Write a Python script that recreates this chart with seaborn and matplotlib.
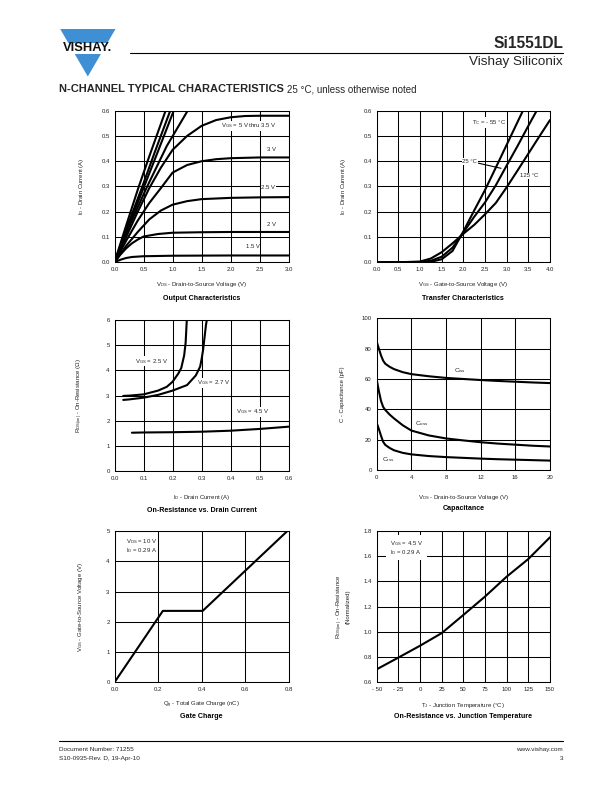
import numpy as np
import pandas as pd
import matplotlib
matplotlib.use("Agg")
import matplotlib.pyplot as plt
import seaborn as sns
from matplotlib.patches import Polygon, Rectangle
from matplotlib.lines import Line2D

# ---------------- DATA ----------------
# Output characteristics (VDS in V, ID in A)
out_vgs_labels = ["5 V", "4.5 V", "4 V", "3.75 V", "3.5 V", "3 V", "2.5 V", "2 V", "1.5 V"]
out_a_vds = [0, 0.2, 0.41, 0.6, 0.88, 0.95]
out_a_id = [0, 0.145, 0.294, 0.42, 0.6, 0.64]
out_b_vds = [0, 0.2, 0.47, 0.7, 0.96, 1.05]
out_b_id = [0, 0.13, 0.294, 0.44, 0.6, 0.65]
out_c_vds = [0, 0.2, 0.5, 0.75, 1.02, 1.1]
out_c_id = [0, 0.12, 0.294, 0.44, 0.6, 0.64]
out_d_vds = [0, 0.2, 0.55, 0.9, 1.26, 1.35]
out_d_id = [0, 0.115, 0.294, 0.46, 0.6, 0.63]
out_35_vds = [0, 0.2, 0.4, 0.6, 0.8, 1.0, 1.25, 1.5, 1.75, 2.0, 2.25, 2.5, 3.0]
out_35_id = [0, 0.1, 0.2, 0.294, 0.375, 0.445, 0.5, 0.54, 0.563, 0.574, 0.579, 0.58, 0.58]
out_3_vds = [0, 0.2, 0.4, 0.6, 0.8, 1.0, 1.25, 1.5, 1.75, 2.0, 2.5, 3.0]
out_3_id = [0, 0.085, 0.165, 0.235, 0.294, 0.355, 0.385, 0.4, 0.408, 0.412, 0.415, 0.415]
out_25_vds = [0, 0.2, 0.4, 0.6, 0.8, 1.0, 1.25, 1.5, 2.0, 2.5, 3.0]
out_25_id = [0, 0.065, 0.12, 0.17, 0.205, 0.228, 0.242, 0.25, 0.255, 0.257, 0.258]
out_2_vds = [0, 0.1, 0.2, 0.3, 0.4, 0.5, 0.75, 1.0, 1.5, 2.0, 3.0]
out_2_id = [0, 0.03, 0.055, 0.075, 0.09, 0.102, 0.112, 0.117, 0.119, 0.12, 0.12]
out_15_vds = [0, 0.1, 0.2, 0.3, 0.5, 1.0, 2.0, 3.0]
out_15_id = [0, 0.01, 0.017, 0.021, 0.024, 0.026, 0.027, 0.027]

# Transfer characteristics (VGS in V, ID in A)
tr_m55_vgs = [0, 0.5, 1.0, 1.25, 1.5, 1.75, 2.0, 2.25, 2.5, 2.75, 3.0, 3.25, 3.5]
tr_m55_id = [0, 0, 0, 0.002, 0.012, 0.045, 0.122, 0.205, 0.286, 0.375, 0.465, 0.555, 0.645]
tr_25_vgs = [0, 0.5, 1.0, 1.25, 1.5, 1.75, 2.0, 2.25, 2.5, 2.75, 3.0, 3.25, 3.5, 3.75]
tr_25_id = [0, 0, 0.001, 0.006, 0.022, 0.058, 0.118, 0.18, 0.237, 0.305, 0.383, 0.46, 0.54, 0.618]
tr_125_vgs = [0, 0.5, 1.0, 1.25, 1.5, 1.75, 2.0, 2.25, 2.5, 2.75, 3.0, 3.25, 3.5, 3.75, 4.0]
tr_125_id = [0, 0, 0.003, 0.015, 0.04, 0.075, 0.113, 0.148, 0.19, 0.235, 0.297, 0.363, 0.43, 0.497, 0.563]

# On-resistance vs drain current (ID in A, RDS in ohm)
rd_25_id = [0.03, 0.05, 0.1, 0.15, 0.18, 0.2, 0.22, 0.23, 0.24, 0.245, 0.249]
rd_25_r = [2.99, 3.0, 3.05, 3.2, 3.35, 3.55, 3.88, 4.1, 4.6, 5.1, 6.0]
rd_27_id = [0.03, 0.05, 0.1, 0.15, 0.2, 0.25, 0.28, 0.295, 0.3, 0.305, 0.31, 0.315, 0.318]
rd_27_r = [2.83, 2.85, 2.92, 3.03, 3.2, 3.42, 3.8, 4.15, 4.45, 4.8, 5.3, 5.8, 6.0]
rd_45_id = [0.06, 0.1, 0.2, 0.3, 0.4, 0.5, 0.6]
rd_45_r = [1.53, 1.54, 1.55, 1.57, 1.61, 1.68, 1.77]

# Capacitance (VDS in V, C in pF)
cap_vds = [0, 0.25, 0.5, 0.75, 1, 1.5, 2, 3, 4, 6, 8, 10, 12, 14, 16, 18, 20]
cap_ciss = [84.5, 80, 75.5, 72, 70, 68, 66.5, 64.5, 63.2, 61.8, 60.7, 60, 59.3, 58.7, 58.2, 57.7, 57.3]
cap_coss = [59.5, 52, 45.5, 41.5, 39.5, 36.5, 34, 29.5, 26, 22.8, 20.8, 19.5, 18.3, 17.4, 16.7, 16, 15.5]
cap_crss = [31, 27, 22.5, 18.5, 16.5, 14.5, 13, 11.3, 10.3, 9.2, 8.5, 8, 7.5, 7.1, 6.8, 6.5, 6.2]

# Gate charge (Qg in nC, VGS in V)
gc_qg = [0, 0.222, 0.405, 0.794]
gc_vgs = [0, 2.36, 2.36, 5.0]

# On-resistance vs junction temperature
tj_temp = [-50, -25, 0, 25, 50, 75, 100, 125, 150]
tj_rnorm = [0.703, 0.796, 0.89, 0.99, 1.134, 1.28, 1.438, 1.578, 1.75]

# ---------------- STYLE ----------------
sns.set_theme(style="white")
plt.rcParams["font.family"] = ["Liberation Sans", "DejaVu Sans"]
plt.rcParams["mathtext.fontset"] = "custom"
plt.rcParams["mathtext.rm"] = "Liberation Sans"
plt.rcParams["mathtext.it"] = "Liberation Sans"

W, H = 612, 792
fig = plt.figure(figsize=(W / 100, H / 100), dpi=100)
fig.patch.set_facecolor("white")

TICK_FS = 4.3
LAB_FS = 4.3
TITLE_FS = 5.1
CURVE_LW = 1.5
GRID_LW = 0.75
TXT = "#222222"
WB = dict(facecolor="white", edgecolor="none", pad=0.6)


def px(x, y):
    return x / W, 1 - y / H


def make_ax(l, t, r, b, xlim, ylim, xticks, yticks, xtl, ytl, title, title_y):
    ax = fig.add_axes([l / W, 1 - b / H, (r - l) / W, (b - t) / H])
    ax.set_xlim(*xlim)
    ax.set_ylim(*ylim)
    ax.set_xticks(xticks)
    ax.set_yticks(yticks)
    ax.set_xticklabels(xtl)
    ax.set_yticklabels(ytl)
    ax.tick_params(length=0, pad=3.5, labelsize=TICK_FS, colors=TXT)
    ax.grid(True, color="black", lw=GRID_LW)
    for s in ax.spines.values():
        s.set_color("black")
        s.set_linewidth(GRID_LW)
        s.set_visible(True)
    ax.text(0.5, (b - title_y) / (b - t), title, transform=ax.transAxes, ha="center",
            va="center", fontsize=TITLE_FS, fontweight="bold", color="black")
    return ax


def labels(ax, rect, xlabel, xlab_y, ylabel, ylab_x):
    l, t, r, b = rect
    ax.set_xlabel(xlabel, fontsize=LAB_FS, va="center", color=TXT)
    ax.xaxis.set_label_coords(0.5, (b - xlab_y) / (b - t))
    ax.set_ylabel(ylabel, fontsize=LAB_FS, va="center", color=TXT, linespacing=1.15)
    ax.yaxis.set_label_coords((ylab_x - l) / (r - l), 0.5)


def draw(ax, curves):
    rows = []
    for name, xs, ys in curves:
        for x, y in zip(xs, ys):
            rows.append({"curve": name, "x": x, "y": y})
    df = pd.DataFrame(rows)
    sns.lineplot(data=df, x="x", y="y", units="curve", estimator=None, sort=False,
                 color="black", lw=CURVE_LW, ax=ax, legend=False)


def fmt(vals, f):
    return [f.format(v) for v in vals]

# ---- Output characteristics ----
r1 = (114.5, 110.7, 288.7, 262.3)
ax1 = make_ax(*r1, (0, 3), (0, 0.6),
              np.arange(0, 3.01, 0.5), np.arange(0, 0.61, 0.1),
              fmt(np.arange(0, 3.01, 0.5), "{:.1f}"), fmt(np.arange(0, 0.61, 0.1), "{:.1f}"),
              "Output Characteristics", 299)
draw(ax1, [("a", out_a_vds, out_a_id), ("b", out_b_vds, out_b_id), ("c", out_c_vds, out_c_id),
           ("d", out_d_vds, out_d_id), ("v35", out_35_vds, out_35_id), ("v3", out_3_vds, out_3_id),
           ("v25", out_25_vds, out_25_id), ("v2", out_2_vds, out_2_id), ("v15", out_15_vds, out_15_id)])
labels(ax1, r1, r"$\mathregular{V_{DS}}$ - Drain-to-Source Voltage (V)", 285,
       r"$\mathregular{I_D}$ - Drain Current (A)", 81.7)
ax1.text(2.32, 0.54, r"$\mathregular{V_{GS}}$ = 5 V thru 3.5 V", fontsize=LAB_FS, ha="center", va="center", bbox=WB)
ax1.text(2.71, 0.447, "3 V", fontsize=LAB_FS, ha="center", va="center", bbox=WB)
ax1.text(2.65, 0.297, "2.5 V", fontsize=LAB_FS, ha="center", va="center", bbox=WB)
ax1.text(2.71, 0.15, "2 V", fontsize=LAB_FS, ha="center", va="center", bbox=WB)
ax1.text(2.38, 0.062, "1.5 V", fontsize=LAB_FS, ha="center", va="center", bbox=WB)

# ---- Transfer characteristics ----
r2 = (376.7, 110.7, 550, 262.3)
ax2 = make_ax(*r2, (0, 4), (0, 0.6),
              np.arange(0, 4.01, 0.5), np.arange(0, 0.61, 0.1),
              fmt(np.arange(0, 4.01, 0.5), "{:.1f}"), fmt(np.arange(0, 0.61, 0.1), "{:.1f}"),
              "Transfer Characteristics", 299)
draw(ax2, [("m55", tr_m55_vgs, tr_m55_id), ("25", tr_25_vgs, tr_25_id), ("125", tr_125_vgs, tr_125_id)])
labels(ax2, r2, r"$\mathregular{V_{GS}}$ - Gate-to-Source Voltage (V)", 285,
       r"$\mathregular{I_D}$ - Drain Current (A)", 343.3)
ax2.text(2.6, 0.553, r"$\mathregular{T_C}$ = - 55 °C", fontsize=LAB_FS, ha="center", va="center", bbox=WB)
ax2.annotate("25 °C", xy=(2.87, 0.372), xytext=(2.15, 0.40), fontsize=LAB_FS, ha="center", va="center",
             bbox=WB, arrowprops=dict(arrowstyle="-", lw=0.8, color="black", shrinkA=0, shrinkB=0))
ax2.text(3.52, 0.342, "125 °C", fontsize=LAB_FS, ha="center", va="center", bbox=WB)

# ---- On-resistance vs drain current ----
r3 = (114.5, 320, 288.7, 471.3)
ax3 = make_ax(*r3, (0, 0.6), (0, 6),
              np.arange(0, 0.61, 0.1), np.arange(0, 6.1, 1),
              fmt(np.arange(0, 0.61, 0.1), "{:.1f}"), fmt(np.arange(0, 6.1, 1), "{:.0f}"),
              "On-Resistance vs. Drain Current", 510)
draw(ax3, [("25", rd_25_id, rd_25_r), ("27", rd_27_id, rd_27_r), ("45", rd_45_id, rd_45_r)])
labels(ax3, r3, r"$\mathregular{I_D}$ - Drain Current (A)", 498,
       r"$\mathregular{R_{DS(on)}}$ - On-Resistance (Ω)", 80)
ax3.text(0.126, 4.37, r"$\mathregular{V_{GS}}$ = 2.5 V", fontsize=LAB_FS, ha="center", va="center", bbox=WB)
ax3.text(0.34, 3.5, r"$\mathregular{V_{GS}}$ = 2.7 V", fontsize=LAB_FS, ha="center", va="center", bbox=WB)
ax3.text(0.474, 2.35, r"$\mathregular{V_{GS}}$ = 4.5 V", fontsize=LAB_FS, ha="center", va="center", bbox=WB)

# ---- Capacitance ----
r4 = (376.7, 318.3, 550, 470)
ax4 = make_ax(*r4, (0, 20), (0, 100),
              np.arange(0, 21, 4), np.arange(0, 101, 20),
              fmt(np.arange(0, 21, 4), "{:.0f}"), fmt(np.arange(0, 101, 20), "{:.0f}"),
              "Capacitance", 509)
draw(ax4, [("ciss", cap_vds, cap_ciss), ("coss", cap_vds, cap_coss), ("crss", cap_vds, cap_crss)])
labels(ax4, r4, r"$\mathregular{V_{DS}}$ - Drain-to-Source Voltage (V)", 497,
       "C - Capacitance (pF)", 342.7)
ax4.text(9.6, 65.3, r"$\mathregular{C_{iss}}$", fontsize=LAB_FS + 0.3, ha="center", va="center")
ax4.text(5.2, 30.3, r"$\mathregular{C_{oss}}$", fontsize=LAB_FS + 0.3, ha="center", va="center")
ax4.text(1.3, 6.6, r"$\mathregular{C_{rss}}$", fontsize=LAB_FS + 0.3, ha="center", va="center")

# ---- Gate charge ----
r5 = (114.5, 531, 288.7, 682.3)
ax5 = make_ax(*r5, (0, 0.8), (0, 5),
              np.arange(0, 0.81, 0.2), np.arange(0, 5.1, 1),
              fmt(np.arange(0, 0.81, 0.2), "{:.1f}"), fmt(np.arange(0, 5.1, 1), "{:.0f}"),
              "Gate Charge", 716)
draw(ax5, [("gc", gc_qg, gc_vgs)])
labels(ax5, r5, r"$\mathregular{Q_g}$ - Total Gate Charge (nC)", 705,
       r"$\mathregular{V_{GS}}$ - Gate-to-Source Voltage (V)", 80.7)
ax5.text(0.054, 4.49, r"$\mathregular{V_{DS}}$ = 10 V" + "\n" + r"$\mathregular{I_D}$ = 0.29 A",
         fontsize=LAB_FS, ha="left", va="center", linespacing=1.0)

# ---- On-resistance vs junction temperature ----
r6 = (376.7, 531, 550, 682.3)
ax6 = make_ax(*r6, (-50, 150), (0.6, 1.8),
              np.arange(-50, 151, 25), np.arange(0.6, 1.81, 0.2),
              ["- 50", "- 25", "0", "25", "50", "75", "100", "125", "150"],
              fmt(np.arange(0.6, 1.81, 0.2), "{:.1f}"),
              "On-Resistance vs. Junction Temperature", 717)
draw(ax6, [("tj", tj_temp, tj_rnorm)])
labels(ax6, r6, r"$\mathregular{T_J}$ - Junction Temperature (°C)", 705,
       r"$\mathregular{R_{DS(on)}}$ - On-Resistance" + "\n(Normalized)", 342.5)
ax6.text(-34.7, 1.668, r"$\mathregular{V_{GS}}$ = 4.5 V" + "\n" + r"$\mathregular{I_D}$ = 0.29 A",
         fontsize=LAB_FS, ha="left", va="center", linespacing=1.0,
         bbox=dict(facecolor="white", edgecolor="none", pad=2.5))

# ---------------- HEADER / FOOTER ----------------
blue = "#3f8fd4"
tri = Polygon([px(60.2, 29), px(115.5, 29), px(87.8, 76.5)], closed=True, transform=fig.transFigure,
              facecolor=blue, edgecolor="none")
fig.patches.append(tri)
bx0, by0 = px(56, 53.8)
bx1, by1 = px(119, 42.6)
band = Rectangle((bx0, by0), bx1 - bx0, by1 - by0, transform=fig.transFigure, facecolor="white", edgecolor="none")
fig.patches.append(band)
fig.text(*px(87.8, 48.3), "VISHAY.", ha="center", va="center", fontsize=9.3, fontweight="bold", color="#111111")

fig.add_artist(Line2D([130 / W, 563 / W], [1 - 53 / H, 1 - 53 / H], color="black", lw=0.8,
                      transform=fig.transFigure))
fig.text(*px(563, 43.5), "Si1551DL", ha="right", va="center", fontsize=11.2, fontweight="bold")
fig.text(*px(563, 62), "Vishay Siliconix", ha="right", va="center", fontsize=9.7)

t_head = fig.text(*px(59, 89.5), "N-CHANNEL TYPICAL CHARACTERISTICS", ha="left", va="center",
                  fontsize=8.0, fontweight="heavy")
fig.canvas.draw()
bb = t_head.get_window_extent(renderer=fig.canvas.get_renderer())
fig.text(bb.x1 / W + 3 / W, 1 - 89.5 / H, "25 °C, unless otherwise noted", ha="left", va="center",
         fontsize=7.0)

fig.add_artist(Line2D([59 / W, 563 / W], [1 - 741 / H, 1 - 741 / H], color="black", lw=0.8,
                      transform=fig.transFigure))
fig.text(*px(59, 749.5), "Document Number: 71255", ha="left", va="center", fontsize=4.6)
fig.text(*px(59, 758.5), "S10-0935-Rev. D, 19-Apr-10", ha="left", va="center", fontsize=4.6)
fig.text(*px(563, 749.5), "www.vishay.com", ha="right", va="center", fontsize=4.6)
fig.text(*px(563, 758.5), "3", ha="right", va="center", fontsize=4.6)

fig.savefig("out.png", dpi=100)
